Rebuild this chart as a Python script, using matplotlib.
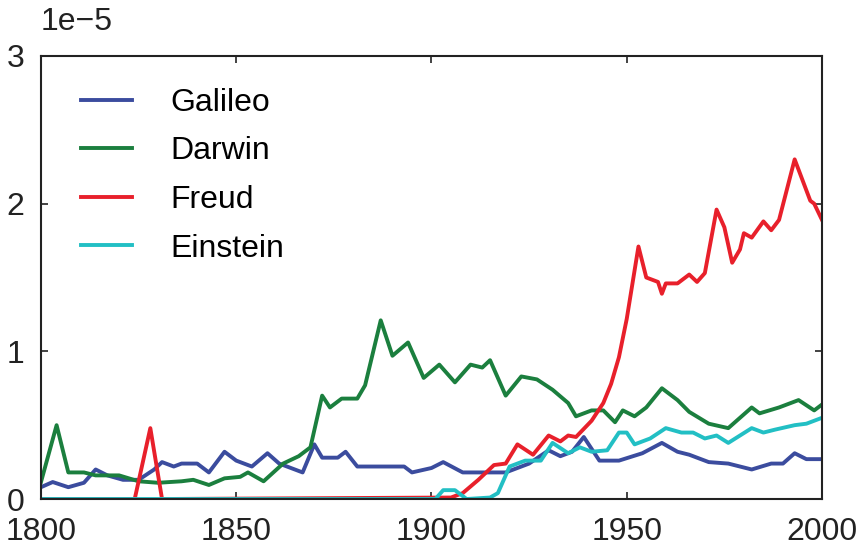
import numpy as np
import matplotlib.pyplot as plt
from matplotlib.transforms import ScaledTranslation

plt.rcParams['font.family'] = ['Liberation Sans', 'DejaVu Sans']

# word frequency (units of 1e-5)
galileo_years = [1800, 1803, 1807, 1811, 1814, 1817, 1821, 1825, 1829, 1831, 1834, 1836,
                 1840, 1843, 1847, 1850, 1854, 1858, 1861, 1867, 1870, 1872, 1876, 1878,
                 1881, 1887, 1893, 1895, 1900, 1903, 1908, 1914, 1919, 1925, 1930, 1933,
                 1936, 1939, 1943, 1948, 1954, 1959, 1963, 1966, 1971, 1976, 1982, 1987,
                 1990, 1993, 1996, 2000]
galileo_vals = [0.08, 0.115, 0.08, 0.11, 0.20, 0.16, 0.13, 0.13, 0.20, 0.25, 0.22, 0.24,
                0.24, 0.18, 0.32, 0.26, 0.22, 0.31, 0.24, 0.18, 0.37, 0.28, 0.28, 0.32,
                0.22, 0.22, 0.22, 0.18, 0.21, 0.25, 0.18, 0.18, 0.18, 0.24, 0.33, 0.29,
                0.32, 0.42, 0.26, 0.26, 0.31, 0.38, 0.32, 0.30, 0.25, 0.24, 0.20, 0.24,
                0.24, 0.31, 0.27, 0.27]

darwin_years = [1800, 1804, 1807, 1811, 1814, 1820, 1825, 1830, 1836, 1839, 1843, 1847,
                1851, 1853, 1857, 1862, 1866, 1869, 1872, 1874, 1877, 1881, 1883, 1887,
                1890, 1894, 1898, 1902, 1906, 1910, 1913, 1915, 1919, 1923, 1927, 1931,
                1935, 1937, 1941, 1944, 1947, 1949, 1952, 1955, 1959, 1963, 1966, 1971,
                1976, 1982, 1984, 1989, 1994, 1998, 2000]
darwin_vals = [0.115, 0.50, 0.18, 0.18, 0.16, 0.16, 0.12, 0.11, 0.12, 0.13, 0.095, 0.14,
               0.15, 0.18, 0.12, 0.24, 0.29, 0.35, 0.70, 0.62, 0.68, 0.68, 0.77, 1.21,
               0.97, 1.06, 0.82, 0.91, 0.79, 0.91, 0.89, 0.94, 0.70, 0.83, 0.81, 0.74,
               0.65, 0.56, 0.60, 0.60, 0.52, 0.60, 0.56, 0.62, 0.75, 0.67, 0.59, 0.51,
               0.48, 0.62, 0.58, 0.62, 0.67, 0.60, 0.64]

freud_years = [1800, 1824, 1828, 1831, 1905, 1908, 1912, 1916, 1919, 1922, 1926, 1930,
               1933, 1935, 1937, 1941, 1944, 1946, 1948, 1950, 1953, 1955, 1958, 1959,
               1960, 1963, 1966, 1968, 1970, 1973, 1975, 1977, 1979, 1980, 1982, 1985,
               1987, 1989, 1993, 1997, 1998, 2000]
freud_vals = [0.0, 0.0, 0.48, 0.0, 0.01, 0.04, 0.13, 0.23, 0.24, 0.37, 0.30, 0.43,
              0.39, 0.43, 0.42, 0.53, 0.65, 0.78, 0.96, 1.22, 1.71, 1.50, 1.47, 1.39,
              1.46, 1.46, 1.52, 1.47, 1.53, 1.96, 1.84, 1.60, 1.69, 1.80, 1.77, 1.88,
              1.82, 1.89, 2.30, 2.02, 2.00, 1.89]

einstein_years = [1800, 1901, 1903, 1906, 1909, 1915, 1917, 1920, 1924, 1928, 1931, 1935,
                  1938, 1941, 1945, 1946, 1948, 1950, 1952, 1956, 1960, 1964, 1967, 1970,
                  1973, 1976, 1982, 1985, 1988, 1993, 1996, 2000]
einstein_vals = [0.0, 0.0, 0.06, 0.06, 0.0, 0.01, 0.04, 0.22, 0.26, 0.26, 0.38, 0.31,
                 0.35, 0.32, 0.33, 0.37, 0.45, 0.45, 0.37, 0.41, 0.48, 0.45, 0.45, 0.41,
                 0.43, 0.38, 0.48, 0.45, 0.47, 0.50, 0.51, 0.55]

names = ['Galileo', 'Darwin', 'Freud', 'Einstein']
colors = ['#3b4c9e', '#1b7f3e', '#e8202b', '#22bfc4']

fig = plt.figure(figsize=(8.61, 5.5), dpi=100)
ax = fig.add_axes([0.0476, 0.0927, 0.9071, 0.8055])

series = [(galileo_years, galileo_vals), (darwin_years, darwin_vals),
          (freud_years, freud_vals), (einstein_years, einstein_vals)]
for (yrs, vals), name, c in zip(series, names, colors):
    ax.plot(yrs, np.array(vals) * 1e-5, color=c, lw=2.8, label=name)

ax.set_xlim(1800, 2000)
ax.set_ylim(0, 3e-5)
ax.set_xticks([1800, 1850, 1900, 1950, 2000])
ax.set_yticks([0, 1e-5, 2e-5, 3e-5])

ax.tick_params(direction='in', length=5, width=1.2, labelsize=23,
               colors='#222222', top=True, right=True)
ax.tick_params(axis='x', pad=13)
ax.tick_params(axis='y', pad=12)

# the "1e-5" multiplier sits higher than matplotlib's default spot
off = ax.yaxis.get_offset_text()
off.set_fontsize(23)
off.set_color('#222222')
off.set_transform(off.get_transform() + ScaledTranslation(0, 16 / 72, fig.dpi_scale_trans))

for s in ax.spines.values():
    s.set_linewidth(1.5)
    s.set_color('#222222')

ax.legend(loc='upper left', bbox_to_anchor=(0.01, 1.0), frameon=False, fontsize=23,
          handlelength=1.6, handletextpad=1.2, labelspacing=0.58, borderaxespad=0.6)

fig.savefig('out.png', dpi=100)
